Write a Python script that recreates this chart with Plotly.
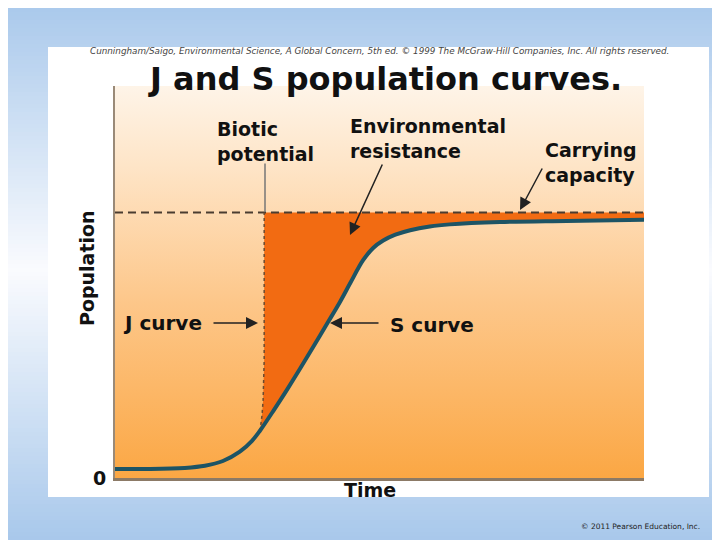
import plotly.graph_objects as go

# S curve (logistic growth), carrying capacity = 100
time_s = [0, 6.6, 13.2, 17.0, 20.4, 23.6, 25.9, 27.4, 30.0, 32.5, 35.0, 37.6, 40.3,
          42.5, 44.5, 46.9, 48.8, 50.7, 53.0, 55.8, 59.5, 63.3, 72.8, 85.4, 100]
pop_s = [3.4, 3.4, 3.8, 4.6, 6.4, 9.9, 14.0, 17.8, 25.5, 33.2, 41.2, 49.8, 58.8,
         66.2, 73.5, 82.0, 86.6, 89.4, 91.6, 93.3, 94.7, 95.5, 96.4, 96.8, 97.2]
# J curve (exponential growth) leaving the S curve
time_j = [27.4, 27.8, 28.0, 28.2, 28.2]
pop_j = [17.8, 23.7, 29.4, 44.4, 100]
carrying_capacity = 100
time_range = [0, 100]
pop_range = [0, 147.6]

# the page body adds an 8px margin, so the figure is 8px smaller than the window
OFF = 8
W, H = 720 - OFF, 540 - OFF
L, R, T, B = 115, 644, 86, 478   # plot area in the reference's pixels
FONT = "DejaVu Sans"


def to_paper(x, y):
    return (x - L) / (R - L), (B - y) / (B - T)


def mix(c1, c2, t):
    return "rgb(%d,%d,%d)" % tuple(round(a + (b - a) * t) for a, b in zip(c1, c2))


# page background: blue -> white -> blue, then white panel
shapes = []
blue, white = (168, 200, 235), (250, 251, 254)
step = 4
for y in range(0, 540, step):
    t = min(1, abs(y + step / 2 - 270) / 270)
    x0, y0 = to_paper(0, y + step)
    x1, y1 = to_paper(720, y)
    shapes.append(dict(type="rect", xref="paper", yref="paper", x0=x0, x1=x1, y0=y0, y1=y1,
                       fillcolor=mix(white, blue, t), line_width=0, layer="below"))
x0, y0 = to_paper(48, 497)
x1, y1 = to_paper(709, 47)
shapes.append(dict(type="rect", xref="paper", yref="paper", x0=x0, x1=x1, y0=y0, y1=y1,
                   fillcolor="white", line_width=0, layer="below"))

fig = go.Figure()

# plot area gradient
fig.add_trace(go.Scatter(
    x=[time_range[0], time_range[1], time_range[1], time_range[0], time_range[0]],
    y=[pop_range[0], pop_range[0], pop_range[1], pop_range[1], pop_range[0]],
    mode="none", fill="toself",
    fillgradient=dict(type="vertical", colorscale=[[0, "#FBA744"], [0.45, "#FDC78A"],
                                                   [0.8, "#FEE5C8"], [1, "#FEF4E8"]]),
    hoverinfo="skip"))

# environmental resistance: between J curve, carrying capacity and S curve
start = time_j[0]
fill_x = time_j + [time_s[-1]] + [t for t in reversed(time_s) if t >= start]
fill_y = pop_j + [carrying_capacity] + [p for t, p in zip(reversed(time_s), reversed(pop_s)) if t >= start]
fig.add_trace(go.Scatter(x=fill_x, y=fill_y, mode="none", fill="toself",
                         fillcolor="#F26B12", hoverinfo="skip"))

fig.add_trace(go.Scatter(x=time_range, y=[carrying_capacity] * 2, mode="lines",
                         line=dict(color="#4A3C30", width=2, dash="8px,5px")))
fig.add_trace(go.Scatter(x=time_j, y=pop_j, mode="lines",
                         line=dict(color="#6B4A30", width=1.5, dash="dot")))
fig.add_trace(go.Scatter(x=time_s, y=pop_s, mode="lines", line_shape="spline",
                         line=dict(color="#1D5465", width=4)))

annotations = []


def text(s, x, y, size=19, xanchor="left", angle=0, bold=True, color="#111", style="normal"):
    px_, py_ = to_paper(x, y)
    annotations.append(dict(text=s, x=px_, y=py_, xref="paper", yref="paper", showarrow=False,
                            xanchor=xanchor, yanchor="middle", textangle=angle, align="left",
                            font=dict(family=FONT, size=size, color=color,
                                      weight="bold" if bold else "normal", style=style)))


def arrow(x, y, ax, ay, head=2, color="#222", width=1.5):
    px_, py_ = to_paper(x, y)
    annotations.append(dict(text="", x=px_, y=py_, xref="paper", yref="paper", ax=ax, ay=ay,
                            showarrow=True, arrowhead=head, arrowsize=1.6, arrowwidth=width,
                            arrowcolor=color))


text("Cunningham/Saigo, Environmental Science, A Global Concern, 5th ed. © 1999 "
     "The McGraw-Hill Companies, Inc. All rights reserved.",
     379, 51, size=8.8, xanchor="center", bold=False, color="#444", style="italic")
text("J and S population curves.", 385, 79, size=32, xanchor="center")
text("Biotic<br>potential", 215, 141)
text("Environmental<br>resistance", 348, 138)
text("Carrying<br>capacity", 543, 162)
text("J curve", 121, 323, size=20)
text("S curve", 388, 325, size=20)
text("Population", 87, 268, xanchor="center", angle=-90)
text("Time", 370, 490, xanchor="center")
text("0", 99, 478, xanchor="center")
text("© 2011 Pearson Education, Inc.", 702, 526, size=7.5, xanchor="right", bold=False, color="#222")

arrow(265, 212, 0, -50, head=0, color="#777")
arrow(350, 235, 33, -72)
arrow(520, 210, 23, -43)
arrow(258, 323, -46, 0)
arrow(330, 323, 50, 0)

fig.update_layout(
    width=W, height=H, showlegend=False,
    margin=dict(l=L - OFF, r=W - (R - OFF), t=T - OFF, b=H - (B - OFF)),
    paper_bgcolor="white", plot_bgcolor="rgba(0,0,0,0)",
    shapes=shapes, annotations=annotations,
    xaxis=dict(range=time_range, showgrid=False, zeroline=False, showticklabels=False,
               showline=True, linecolor="#8C7A66", linewidth=3, fixedrange=True),
    yaxis=dict(range=pop_range, showgrid=False, zeroline=False, showticklabels=False,
               showline=True, linecolor="#9A8A78", linewidth=2, fixedrange=True),
)

fig.write_html("out.html")
